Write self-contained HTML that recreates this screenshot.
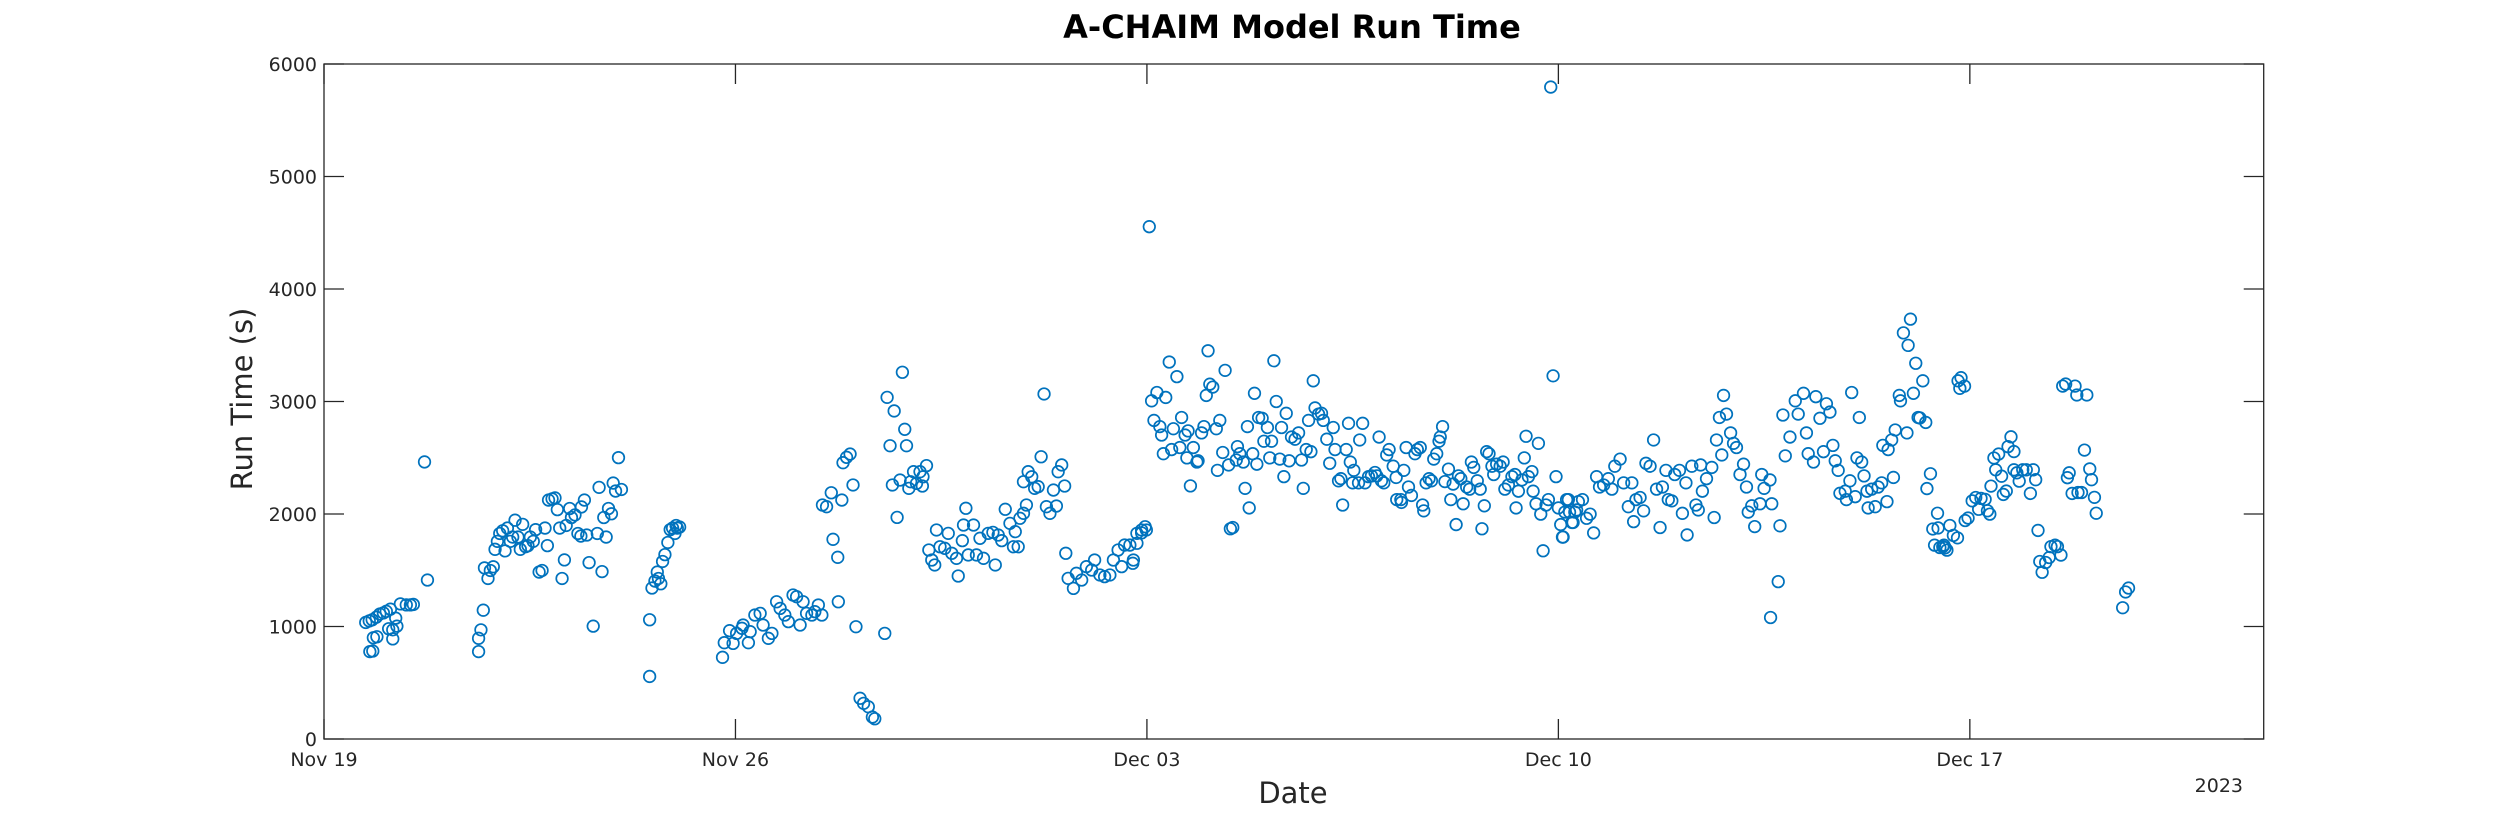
<!DOCTYPE html>
<html>
<head>
<meta charset="utf-8">
<style>
  html,body{margin:0;padding:0;background:#fff;}
  svg{display:block;font-family:"DejaVu Sans","Liberation Sans",sans-serif;}
</style>
</head>
<body>
<svg id="chart" width="2500" height="833" viewBox="0 0 2500 833" xmlns="http://www.w3.org/2000/svg">
  <rect x="0" y="0" width="2500" height="833" fill="#ffffff"/>
  <text x="1292" y="38" text-anchor="middle" font-size="32" font-weight="bold" fill="#000">A-CHAIM Model Run Time</text>
  <text x="1293" y="803" text-anchor="middle" font-size="29" fill="#262626">Date</text>
  <text transform="translate(252,399) rotate(-90)" text-anchor="middle" font-size="29" fill="#262626">Run Time (s)</text>
  <text x="2243" y="792" text-anchor="end" font-size="19" fill="#262626">2023</text>
  <g id="grid-ticks"></g>
  <g id="marks"></g>
  <rect x="324" y="64" width="1939.7" height="675" fill="none" stroke="#262626" stroke-width="1.3"/>
</svg>
<script>
// Days since Nov 19 (fractional) and run time in seconds
const dayOffsets = [
0.71,0.77,0.82,0.89,0.95,1.01,1.06,1.13,0.78,0.83,0.84,0.90,1.10,1.17,1.22,1.17,1.24,1.30,1.40,1.47,1.52,1.71,1.76,
2.63,2.63,2.67,2.71,2.73,2.79,2.83,2.88,2.91,2.95,2.99,3.04,3.08,3.12,3.17,3.21,3.25,3.30,3.34,3.38,3.43,3.47,3.51,3.56,3.60,3.66,3.71,3.76,3.80,3.82,3.88,3.93,3.97,4.01,4.05,4.09,4.12,4.18,4.21,4.27,4.32,4.37,4.38,4.43,4.47,4.51,4.58,4.65,4.68,4.73,4.76,4.80,4.84,4.89,4.92,4.96,5.01,5.06,
5.54,5.54,5.58,5.63,5.69,5.73,5.67,5.76,5.80,5.85,5.89,5.93,5.97,6.01,6.05,5.99,
6.78,6.81,6.90,6.96,7.02,7.11,7.13,7.22,7.25,7.33,7.42,7.47,7.56,7.62,7.70,7.76,7.84,7.90,7.98,8.04,8.10,8.15,8.21,8.30,8.35,8.41,8.47,8.48,8.55,8.63,8.66,8.74,8.75,8.81,8.83,8.89,8.95,9.00,9.05,9.12,9.18,9.26,9.33,9.37,9.54,9.58,9.63,9.67,9.70,9.75,9.80,9.84,9.88,9.91,9.95,9.98,10.03,10.08,10.14,10.18,10.19,10.25,
10.29,10.34,10.39,10.42,10.48,10.56,10.62,10.68,10.76,10.79,10.86,10.88,10.92,10.96,11.05,11.10,11.16,11.22,11.30,11.38,11.42,11.47,11.53,11.59,11.67,11.73,11.76,11.81,11.84,11.90,11.95,11.90,11.98,12.04,12.09,12.15,12.20,12.25,12.29,12.35,12.41,12.46,12.49,12.55,12.60,
12.62,12.66,12.75,12.80,12.89,12.97,13.06,13.11,13.20,13.28,13.37,13.43,13.51,13.57,13.62,13.71,13.77,13.83,13.91,13.97,
14.04,20.87,20.91,13.76,13.83,13.91,13.99,14.08,14.17,14.12,14.22,14.25,14.32,14.38,14.28,14.42,14.45,14.51,14.56,14.59,14.65,14.68,14.70,14.74,14.79,14.85,14.87,14.93,14.97,15.01,15.04,15.07,15.12,15.18,15.20,15.24,15.29,15.33,15.39,15.42,15.46,15.52,15.54,15.58,15.64,15.67,15.71,15.74,15.80,15.83,15.87,15.90,15.96,15.99,
16.05,16.09,16.12,16.16,16.20,16.26,16.29,16.33,16.37,16.42,16.46,16.52,16.58,16.63,16.66,16.71,16.75,16.79,16.83,16.86,16.92,16.97,17.00,17.06,17.11,17.17,17.20,17.26,17.30,17.33,17.39,17.43,17.46,17.50,17.52,17.60,17.62,17.67,17.71,17.77,17.82,17.88,17.91,17.95,17.99,18.03,18.08,18.12,18.19,18.24,18.25,18.32,18.33,18.37,18.41,18.45,18.50,18.56,18.60,18.65,18.69,18.71,18.75,18.80,18.84,18.88,18.93,18.97,18.99,19.03,
19.07,19.13,19.17,19.21,19.26,19.30,19.34,19.38,19.44,19.49,19.52,19.56,19.62,19.67,19.70,19.74,19.78,19.82,19.87,19.90,19.95,20.01,20.06,20.09,20.15,20.21,20.26,20.28,20.32,20.38,20.42,20.45,20.49,20.55,20.57,20.62,20.66,20.70,20.74,20.79,20.83,20.96,21.00,21.04,21.07,21.14,21.19,21.25,21.31,21.34,
21.08,21.11,21.17,21.23,21.28,21.41,21.48,21.54,21.60,21.65,21.70,21.77,21.85,21.91,21.96,22.05,22.11,22.19,22.25,22.28,22.32,22.39,22.45,22.49,22.56,22.62,22.67,22.73,22.77,22.83,22.87,22.93,22.98,23.06,23.11,23.17,23.19,23.27,23.34,23.38,23.42,23.45,23.52,23.61,23.65,23.69,23.74,23.81,23.86,23.78,23.93,23.98,
24.03,24.09,24.15,24.20,24.23,24.29,24.34,24.43,24.46,24.50,24.60,24.63,24.61,24.74,24.77,24.82,24.86,24.94,25.03,25.08,25.17,25.22,25.25,25.34,25.38,25.45,25.51,25.56,25.62,25.67,25.71,25.76,25.79,25.88,25.90,25.96,25.99,26.05,26.08,26.12,26.16,26.20,26.25,26.27,26.33,26.39,26.44,26.50,26.52,26.59,26.61,26.67,26.70,26.73,26.80,26.82,26.87,26.93,26.95,26.99,27.04,27.08,27.12,27.15,27.20,27.25,
27.27,27.33,27.37,27.40,27.45,27.46,27.49,27.54,27.56,27.58,27.61,27.66,27.72,27.79,27.80,27.83,27.85,27.91,
27.92,27.97,28.04,28.10,28.15,28.19,28.26,28.30,28.34,28.36,28.41,28.44,28.49,28.54,28.57,28.62,28.65,28.70,28.75,28.75,28.80,28.84,28.90,28.96,29.03,29.08,29.12,29.16,29.19,29.23,29.29,29.35,29.38,29.45,29.49,29.55,29.58,29.63,29.66,29.69,29.74,29.79,29.84,29.82,29.90,29.95,29.99,30.04,30.07,30.12,30.15,30.60,30.65,30.70
];
const runTimes = [
1036,1050,1060,1083,1111,1121,1135,1154,777,782,900,909,980,970,1074,890,1003,1201,1192,1192,1196,2463,1413,
777,895,970,1145,1521,1427,1498,1531,1686,1757,1827,1851,1672,1875,1757,1795,1945,1795,1686,1908,1710,1719,1795,1757,1861,1484,1498,1875,1719,2124,2134,2143,2039,1875,1427,1592,1898,2049,1969,1992,1827,1804,2063,2124,1813,1568,1003,1827,2237,1488,1969,1795,2049,2002,2275,2204,2501,2218,
556,1060,1342,1404,1427,1380,1484,1578,1639,1747,1861,1875,1827,1875,1884,1898,
726,856,963,850,939,984,1013,856,954,1102,1117,1013,895,939,1220,1161,1102,1043,1280,1265,1013,1220,1117,1102,1132,1191,1102,2080,2065,2189,1775,1615,1220,2124,2456,2504,2533,2258,998,362,317,287,195,180,939,3037,2607,2258,2916,1970,2302,3260,2753,2607,2228,2287,2376,2272,2376,2249,2331,2430,
1680,1591,1547,1858,1709,1695,1828,1651,1606,1449,1763,1902,2051,1636,1902,1636,1784,1606,1828,1837,1547,1813,1763,2042,1917,1709,1843,1709,1962,2006,2080,2287,2376,2331,2228,2243,2509,3067,2065,2006,2213,2071,2376,2436,2249,
1651,1428,1339,1473,1413,1532,1502,1591,1458,1443,1458,1591,1680,1532,1724,1724,1591,1828,1858,1887,
4554,5795,3228,1562,1740,1832,1858,3006,3080,2832,2777,2702,3036,3351,2536,2573,2758,3221,2591,2858,2702,2499,2739,2250,2591,2462,2473,2721,2777,3054,3451,3154,3128,2758,2388,2832,2547,3277,2436,1869,1880,2480,2599,2536,2462,2228,2777,2054,2536,3073,2443,2858,2851,2647,
2769,2499,2647,3362,3000,2488,2769,2332,2895,2473,2684,2665,2721,2480,2228,2573,2832,2554,3184,2943,2888,2895,2832,2665,2451,2769,2573,2295,2314,2080,2573,2806,2462,2277,2388,2277,2658,2806,2277,2332,2339,2369,2339,2684,2295,2277,2525,2573,2425,2325,2128,2128,2103,2388,2591,2240,2165,2536,2573,2591,2080,2028,2277,2314,2295,2488,2536,2647,2684,2777,
2288,2399,2128,2266,1906,2339,2314,2091,2240,2221,2462,2414,2295,2221,1869,2073,2554,2536,2425,2351,2443,2425,2462,2221,2258,2332,2351,2054,2203,2303,2499,2691,2332,2377,2203,2091,2628,1999,1673,2080,2128,2332,2054,1906,1795,2128,2017,1925,2036,2110,
1795,2017,2128,1925,2017,2128,1962,1999,1832,2332,2240,2258,2314,2221,2425,2488,2277,2065,2277,1932,2128,2147,2028,2451,2425,2658,2221,1880,2240,2388,2128,2117,2351,2388,2006,2277,1814,2425,2080,2036,2436,2203,2314,2414,1969,2658,2858,3054,2888,2525,2721,2628,
2591,2351,2443,2240,2017,2073,1888,2091,2351,2228,2303,2091,1080,1399,1895,2880,2517,2684,3006,2888,3073,2721,2536,2462,3043,2851,2554,2980,2906,2610,2473,2388,2184,2203,2128,2295,3080,2154,2499,2858,2462,2339,2203,2054,2221,2065,2240,2277,2610,2110,2573,2658,2325,2747,3054,3006,3610,2721,3499,3732,3073,3340,2858,2854,3184,2814,
2226,2358,1867,1723,2007,1876,1702,1710,1723,1700,1679,1898,1810,1788,3184,3117,3212,3137,
1942,1964,2117,2147,2042,2139,2130,2029,1999,2248,2498,2393,2533,2336,2174,2204,2599,2686,2555,2393,2366,2292,2393,2393,2183,2393,2305,1854,1578,1482,1569,1613,1710,1723,1710,1635,3137,3155,2323,2366,2183,3137,2191,3058,2191,2568,3058,2401,2305,2148,2007,1167,1307,1342
];
const yTickValues = [0,1000,2000,3000,4000,5000,6000];
const yTickLabels = ["0","1000","2000","3000","4000","5000","6000"];
const xTickDays = [0,7,14,21,28];
const xTickLabels = ["Nov 19","Nov 26","Dec 03","Dec 10","Dec 17"];

const X0 = 324, DAYPX = 58.78, XMAXDAY = 33;
const Y0 = 739, YTOP = 64, YMAX = 6000;
function xs(d){ return X0 + d * DAYPX; }
function ys(v){ return Y0 - v / YMAX * (Y0 - YTOP); }
const NS = "http://www.w3.org/2000/svg";
const XR = xs(XMAXDAY);

const tg = document.getElementById('grid-ticks');
function mk(tag, attrs, parent){
  const e = document.createElementNS(NS, tag);
  for (const k in attrs) e.setAttribute(k, attrs[k]);
  parent.appendChild(e);
  return e;
}
yTickValues.forEach((v, i) => {
  const y = ys(v);
  const t1 = mk('line', {x1:X0, x2:X0+20, y1:y, y2:y, stroke:'#262626', 'stroke-width':1.3}, tg);
  
  
  const t2 = mk('line', {x1:XR-20, x2:XR, y1:y, y2:y, stroke:'#262626', 'stroke-width':1.3}, tg);
  
  
  const lb = mk('text', {x:X0-7, y:y+7, 'text-anchor':'end', 'font-size':19, fill:'#262626'}, tg);
  lb.textContent = yTickLabels[i];
  
  
});
xTickDays.forEach((d, i) => {
  const x = xs(d);
  const t1 = mk('line', {x1:x, x2:x, y1:Y0, y2:Y0-20, stroke:'#262626', 'stroke-width':1.3}, tg);
  
  
  const t2 = mk('line', {x1:x, x2:x, y1:YTOP, y2:YTOP+20, stroke:'#262626', 'stroke-width':1.3}, tg);
  
  
  const lb = mk('text', {x:x, y:766, 'text-anchor':'middle', 'font-size':19, fill:'#262626'}, tg);
  lb.textContent = xTickLabels[i];
  
  
});

const mg = document.getElementById('marks');
const n = Math.min(dayOffsets.length, runTimes.length);
for (let i = 0; i < n; i++){
  const c = mk('circle', {cx:xs(dayOffsets[i]), cy:ys(runTimes[i]), r:5.8, fill:'none', stroke:'#0072BD', 'stroke-width':1.7}, mg);
  
  
}
</script>
</body>
</html>
